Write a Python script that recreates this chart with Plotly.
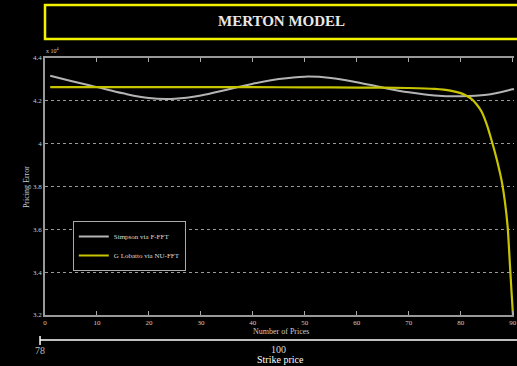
import plotly.graph_objects as go

# Pricing error (in units of 1e4) versus number of prices
simpson_x = [1, 5, 10, 15, 20, 25, 30, 35, 40, 45, 50, 55, 60, 65, 70, 75, 80, 85, 90, 91]
simpson_y = [4.317, 4.293, 4.264, 4.235, 4.213, 4.210, 4.225, 4.252, 4.280, 4.302,
             4.313, 4.307, 4.287, 4.262, 4.240, 4.225, 4.221, 4.228, 4.254, 4.260]

lobatto_x = [1, 10, 20, 30, 40, 50, 60, 70, 75, 78, 80, 81, 82, 83, 84, 85, 86, 87, 88, 89, 89.5, 90, 91]
lobatto_y = [4.264, 4.264, 4.264, 4.264, 4.264, 4.263, 4.262, 4.260, 4.256, 4.248,
             4.236, 4.225, 4.210, 4.185, 4.150, 4.090, 4.010, 3.920, 3.810, 3.620,
             3.420, 3.220, 2.900]

y_ticks = [3.2, 3.4, 3.6, 3.8, 4.0, 4.2, 4.4]
y_tick_labels = ["3.2", "3.4", "3.6", "3.8", "4", "4.2", "4.4"]
x_ticks = [0, 10, 20, 30, 40, 50, 60, 70, 80, 90]

W, H = 517, 366
L, T, B = 45, 58, 51
PW, PH = W - L, H - T - B

def px(x):
    return (x - L) / PW

def py(y):
    return (H - B - y) / PH

SERIF = "Liberation Serif"

fig = go.Figure()
fig.add_trace(go.Scatter(x=simpson_x, y=simpson_y, mode="lines", name="Simpson via F-FFT",
                         line=dict(color="#b4b4b4", width=2, shape="spline")))
fig.add_trace(go.Scatter(x=lobatto_x, y=lobatto_y, mode="lines", name="G Lobatto via NU-FFT",
                         line=dict(color="#c8c400", width=2.2, shape="spline", smoothing=0.6)))

shapes = [
    # title frame
    dict(type="rect", xref="paper", yref="paper", x0=px(45), x1=px(540), y0=py(39), y1=py(5),
         line=dict(color="#f2f200", width=2.5)),
    # strike price axis
    dict(type="line", xref="paper", yref="paper", x0=px(40), x1=px(520), y0=py(340), y1=py(340),
         line=dict(color="#ffffff", width=1.5)),
    dict(type="line", xref="paper", yref="paper", x0=px(40), x1=px(40), y0=py(336), y1=py(345),
         line=dict(color="#ffffff", width=1.5)),
]

def label(text, x, y, size, color, **kw):
    return dict(text=text, xref="paper", yref="paper", x=px(x), y=py(y),
                xanchor=kw.pop("xanchor", "center"), yanchor="middle", showarrow=False,
                font=dict(family=SERIF, size=size, color=color), **kw)

annotations = [
    label("<b>MERTON MODEL</b>", 283, 21, 15, "#e8e8e8"),
    label("x 10<sup>4</sup>", 44, 50, 6, "#cccccc", xanchor="left"),
    label("Pricing Error", 26, 187, 8, "#cccccc", textangle=-90),
    label("Number of Prices", 283, 331, 8, "#cccccc"),
    label("78", 40, 350, 10, "#bbbbbb"),
    label("100", 280, 349, 10, "#dddddd"),
    label("Strike price", 282, 359, 10, "#ffffff"),
]

fig.update_layout(
    width=W, height=H,
    margin=dict(l=L, r=0, t=T, b=B),
    paper_bgcolor="black", plot_bgcolor="black",
    showlegend=True,
    legend=dict(x=px(73), y=py(221), xanchor="left", yanchor="top",
                bgcolor="black", bordercolor="#aaaaaa", borderwidth=1,
                font=dict(family=SERIF, size=7, color="#dddddd"),
                itemwidth=30, tracegroupgap=6),
    shapes=shapes,
    annotations=annotations,
)

fig.update_xaxes(range=[0, 90.25], tickvals=x_ticks, ticks="inside", ticklen=4,
                 tickcolor="#aaaaaa", showline=True, linecolor="#999999", linewidth=1.5,
                 mirror="ticks", showgrid=False, zeroline=False, ticklabeloverflow="allow",
                 tickfont=dict(family=SERIF, size=7, color="#cccccc"))
fig.update_yaxes(range=[3.2, 4.4], tickvals=y_ticks, ticktext=y_tick_labels, ticks="",
                 showline=True, linecolor="#999999", linewidth=1.5,
                 showgrid=True, gridcolor="#9a9a9a", griddash="dot", gridwidth=1,
                 zeroline=False, tickfont=dict(family=SERIF, size=7, color="#cccccc"))

fig.write_html("out.html")
